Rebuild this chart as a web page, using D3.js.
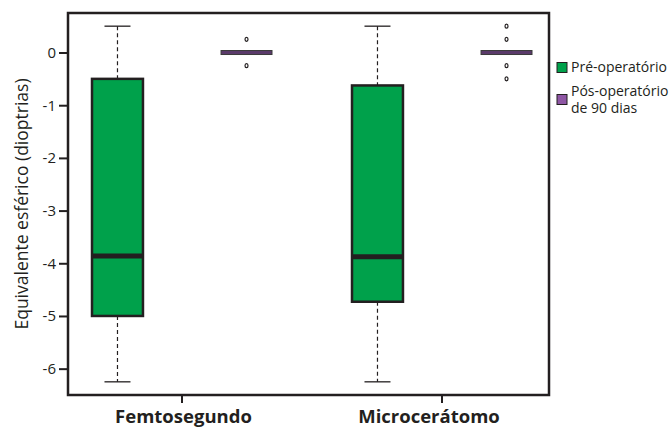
<!DOCTYPE html>
<html>
<head>
<meta charset="utf-8">
<script src="https://cdn.jsdelivr.net/npm/d3@7"></script>
<style>
  body { margin: 0; background: #fff; }
  svg { display: block; }
  text { font-family: "Open Sans", "DejaVu Sans", sans-serif; fill: #231f20; }
</style>
</head>
<body>
<svg id="chart" width="672" height="429"></svg>
<script>
// ---- data ----
const groups = ["Femtosegundo", "Microcerátomo"];
const seriesNames = ["Pré-operatório", "Pós-operatório de 90 dias"];
const seriesColors = ["#00a14b", "#8e56a4"];
const yTicks = [0, -1, -2, -3, -4, -5, -6];
// box stats: [whiskerLow, q1, median, q3, whiskerHigh]
const preStats = [
  [-6.25, -5.0, -3.86, -0.5, 0.5],
  [-6.25, -4.73, -3.875, -0.625, 0.5]
];
const postStats = [
  [0, 0, 0, 0, 0],
  [0, 0, 0, 0, 0]
];
const postOutliers = [
  [0.25, -0.25],
  [0.5, 0.25, -0.25, -0.5]
];
const preOutliers = [[], []];

// ---- layout ----
const svg = d3.select("#chart");
const pL = 68, pR = 549, pT = 13, pB = 395;
const y = d3.scaleLinear().domain([-6.5, 0.75]).range([pB, pT]);
const x = d3.scaleBand().domain(groups).range([52, 572]).paddingInner(0).paddingOuter(0);
const sub = d3.scaleBand().domain(seriesNames).range([0, x.bandwidth()]).paddingInner(0.605).paddingOuter(0.31);
const dark = "#231f20";
const labelShift = [1.5, -13];

// axes
const yAxis = d3.axisLeft(y).tickValues(yTicks).tickFormat(d3.format("d")).tickSize(9).tickPadding(3);
const gy = svg.append("g").attr("transform", `translate(${pL},0)`).call(yAxis);
gy.select(".domain").remove();
gy.selectAll(".tick line").attr("stroke", dark).attr("stroke-width", 2);
gy.selectAll(".tick text").style("font-size", "15px").attr("fill", dark)
  .text(d => d === 0 ? "0" : "-" + Math.abs(d));

const xAxis = d3.axisBottom(x).tickSize(8).tickFormat("");
const gx = svg.append("g").attr("transform", `translate(0,${pB})`).call(xAxis);
gx.select(".domain").remove();
gx.selectAll(".tick line").attr("stroke", dark).attr("stroke-width", 2);

groups.forEach((g, i) => {
  svg.append("text").attr("x", x(g) + x.bandwidth() / 2 + labelShift[i]).attr("y", 423)
    .attr("text-anchor", "middle").style("font-size", "18.5px").style("font-weight", "bold")
    .text(g);
});

// frame
svg.append("rect").attr("x", pL).attr("y", pT).attr("width", pR - pL).attr("height", pB - pT)
  .attr("fill", "none").attr("stroke", dark).attr("stroke-width", 2.5);

// y label
svg.append("text").attr("transform", `translate(28,204) rotate(-90)`)
  .attr("text-anchor", "middle").style("font-size", "17.5px").text("Equivalente esférico (dioptrias)");

// boxes
function drawBox(cx, w, s, color, outliers) {
  const [lo, q1, med, q3, hi] = s;
  const gg = svg.append("g");
  const capW = 26;
  if (hi > q3) {
    gg.append("line").attr("x1", cx).attr("x2", cx).attr("y1", y(hi)).attr("y2", y(q3))
      .attr("stroke", dark).attr("stroke-width", 1.2).attr("stroke-dasharray", "4,3");
    gg.append("line").attr("x1", cx - capW / 2).attr("x2", cx + capW / 2).attr("y1", y(hi)).attr("y2", y(hi))
      .attr("stroke", dark).attr("stroke-width", 1.3);
  }
  if (lo < q1) {
    gg.append("line").attr("x1", cx).attr("x2", cx).attr("y1", y(q1)).attr("y2", y(lo))
      .attr("stroke", dark).attr("stroke-width", 1.2).attr("stroke-dasharray", "4,3");
    gg.append("line").attr("x1", cx - capW / 2).attr("x2", cx + capW / 2).attr("y1", y(lo)).attr("y2", y(lo))
      .attr("stroke", dark).attr("stroke-width", 1.3);
  }
  if (q3 > q1) {
    gg.append("rect").attr("x", cx - w / 2).attr("y", y(q3)).attr("width", w).attr("height", y(q1) - y(q3))
      .attr("fill", color).attr("stroke", dark).attr("stroke-width", 2.5);
    gg.append("line").attr("x1", cx - w / 2).attr("x2", cx + w / 2).attr("y1", y(med)).attr("y2", y(med))
      .attr("stroke", dark).attr("stroke-width", 5);
  } else {
    gg.append("rect").attr("x", cx - w / 2).attr("y", y(med) - 2).attr("width", w).attr("height", 4)
      .attr("fill", "#5a3a6a").attr("stroke", "#3a3a3a").attr("stroke-width", 1);
  }
  outliers.forEach(o => {
    gg.append("ellipse").attr("cx", cx).attr("cy", y(o)).attr("rx", 1.5).attr("ry", 2)
      .attr("fill", "none").attr("stroke", dark).attr("stroke-width", 1.2);
  });
}

groups.forEach((g, i) => {
  const w = sub.bandwidth();
  drawBox(x(g) + sub(seriesNames[0]) + w / 2, w, preStats[i], seriesColors[0], preOutliers[i]);
  drawBox(x(g) + sub(seriesNames[1]) + w / 2, w, postStats[i], seriesColors[1], postOutliers[i]);
});

// legend
const leg = svg.append("g");
leg.append("rect").attr("x", 557).attr("y", 62.5).attr("width", 10).attr("height", 10)
  .attr("fill", seriesColors[0]).attr("stroke", dark).attr("stroke-width", 1);
leg.append("text").attr("x", 571).attr("y", 72).style("font-size", "14px").text(seriesNames[0]);
leg.append("rect").attr("x", 557).attr("y", 94.5).attr("width", 10).attr("height", 10)
  .attr("fill", seriesColors[1]).attr("stroke", dark).attr("stroke-width", 1);
leg.append("text").attr("x", 571).attr("y", 95.5).style("font-size", "14px").text("Pós-operatório");
leg.append("text").attr("x", 571).attr("y", 113).style("font-size", "14px").text("de 90 dias");
</script>
</body>
</html>
